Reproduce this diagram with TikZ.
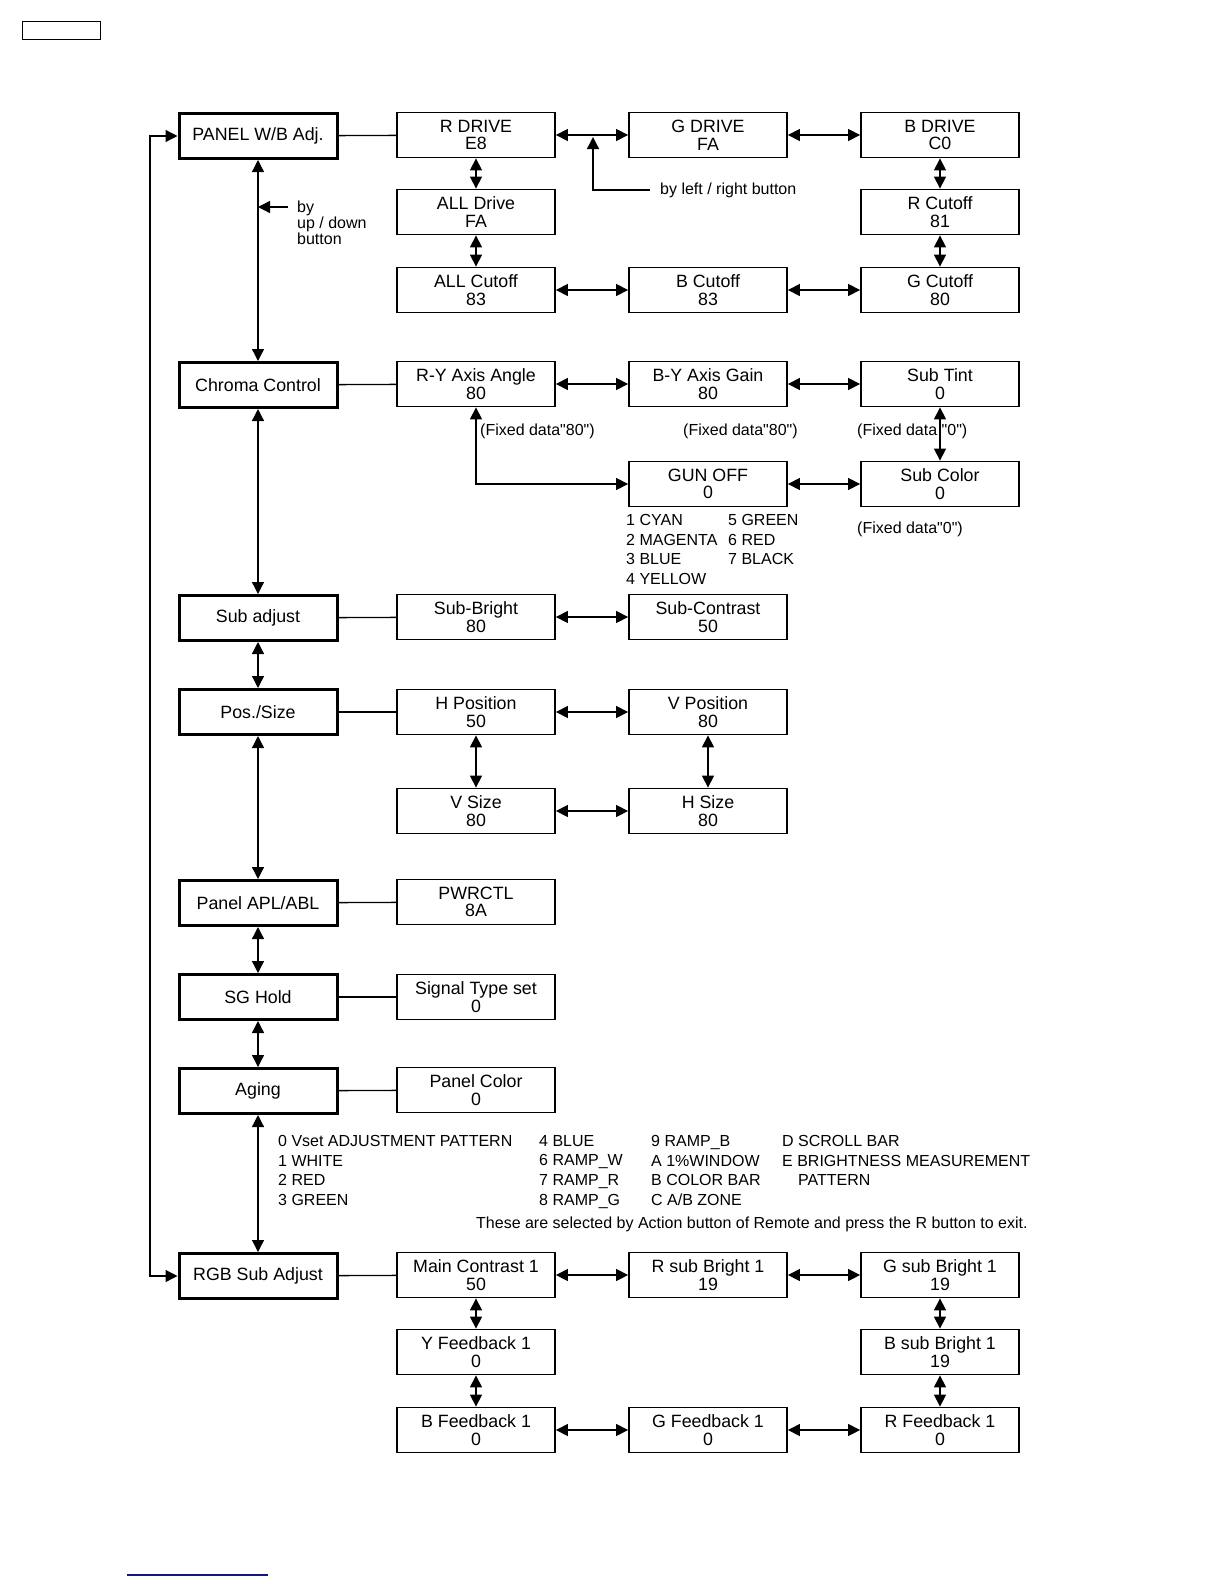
\documentclass[tikz,border=0pt]{standalone}
\usepackage{fontspec}
\setmainfont{Liberation Sans}[Ligatures=TeXOff]
\usetikzlibrary{arrows.meta}
\definecolor{navyline}{RGB}{20,20,130}

\begin{document}
\begin{tikzpicture}[x=1pt,y=-1pt,
    box/.style={draw,line width=1.8pt,minimum width=158pt,minimum height=45pt,inner sep=0pt,align=center,font=\fontsize{17.8}{17.7}\selectfont},
    mainbox/.style={box,line width=3pt},
    note/.style={inner sep=0pt,font=\fontsize{16}{19.7}\selectfont,align=left},
    dbl/.style={line width=1.3pt,{Triangle[length=12pt,width=12pt]}-{Triangle[length=12pt,width=12pt]}},
    tip/.style={line width=1.3pt,-{Triangle[length=12pt,width=12pt]}},
    link/.style={line width=1.3pt}]
\useasboundingbox (0,0) rectangle (1224,1584);
\draw[line width=1pt] (22,22) rectangle (100,40);
\draw[navyline,line width=1.5pt] (127,1575) -- (268,1575);

% left column
\node[mainbox] (panel) at (258,136) {PANEL W/B Adj.};
\node[mainbox] (chroma) at (258,385) {Chroma Control};
\node[mainbox] (subadj) at (258,618) {Sub adjust};
\node[mainbox] (possize) at (258,712) {Pos./Size};
\node[mainbox] (apl) at (258,903) {Panel APL/ABL};
\node[mainbox] (sghold) at (258,997) {SG Hold};
\node[mainbox] (aging) at (258,1091) {Aging};
\node[mainbox] (rgb) at (258,1276) {RGB Sub Adjust};

% W/B
\node[box] (rdrive) at (476,135) {R DRIVE\\E8};
\node[box] (gdrive) at (708,135) {G DRIVE\\FA};
\node[box] (bdrive) at (940,135) {B DRIVE\\C0};
\node[box] (alldrive) at (476,212) {ALL Drive\\FA};
\node[box] (rcutoff) at (940,212) {R Cutoff\\81};
\node[box] (allcutoff) at (476,290) {ALL Cutoff\\83};
\node[box] (bcutoff) at (708,290) {B Cutoff\\83};
\node[box] (gcutoff) at (940,290) {G Cutoff\\80};

% chroma
\node[box] (ryangle) at (476,384) {R-Y Axis Angle\\80};
\node[box] (bygain) at (708,384) {B-Y Axis Gain\\80};
\node[box] (subtint) at (940,384) {Sub Tint\\0};
\node[box] (gunoff) at (708,484) {GUN OFF\\0};
\node[box] (subcolor) at (940,484) {Sub Color\\0};

\node[box] (subbright) at (476,617) {Sub-Bright\\80};
\node[box] (subcontrast) at (708,617) {Sub-Contrast\\50};

\node[box] (hpos) at (476,712) {H Position\\50};
\node[box] (vpos) at (708,712) {V Position\\80};
\node[box] (vsize) at (476,811) {V Size\\80};
\node[box] (hsize) at (708,811) {H Size\\80};

\node[box] (pwrctl) at (476,902) {PWRCTL\\8A};
\node[box] (sigtype) at (476,997) {Signal Type set\\0};
\node[box] (panelcolor) at (476,1090) {Panel Color\\0};

% RGB
\node[box] (maincontrast) at (476,1275) {Main Contrast 1\\50};
\node[box] (rsubbright) at (708,1275) {R sub Bright 1\\19};
\node[box] (gsubbright) at (940,1275) {G sub Bright 1\\19};
\node[box] (yfeedback) at (476,1352) {Y Feedback 1\\0};
\node[box] (bsubbright) at (940,1352) {B sub Bright 1\\19};
\node[box] (bfeedback) at (476,1430) {B Feedback 1\\0};
\node[box] (gfeedback) at (708,1430) {G Feedback 1\\0};
\node[box] (rfeedback) at (940,1430) {R Feedback 1\\0};

% notes
\node[note,anchor=west] (lrnote) at (660,190) {by left / right button};
\node[note,anchor=west,font=\fontsize{16}{16}\selectfont] (udnote) at (297,223) {by\\up / down\\button};
\node[note,anchor=west] (fix1) at (480,431) {(Fixed data"80")};
\node[note,anchor=west] (fix2) at (683,431) {(Fixed data"80")};
\node[note,anchor=west] (fix3) at (857,431) {(Fixed data "0")};
\node[note,anchor=west] (fix4) at (857,529) {(Fixed data"0")};
\node[note,anchor=north west] (gunlist1) at (626,514) {1 CYAN\\2 MAGENTA\\3 BLUE\\4 YELLOW};
\node[note,anchor=north west] (gunlist2) at (728,514) {5 GREEN\\6 RED\\7 BLACK};
\node[note,anchor=north west] (pat1) at (278,1135) {0 Vset ADJUSTMENT PATTERN\\1 WHITE\\2 RED\\3 GREEN};
\node[note,anchor=north west] (pat2) at (539,1135) {4 BLUE\\6 RAMP\_W\\7 RAMP\_R\\8 RAMP\_G};
\node[note,anchor=north west] (pat3) at (651,1135) {9 RAMP\_B\\A 1\%WINDOW\\B COLOR BAR\\C A/B ZONE};
\node[note,anchor=north west] (pat4) at (782,1135) {D SCROLL BAR\\E BRIGHTNESS MEASUREMENT\\\hspace*{16pt}PATTERN};
\node[note,anchor=west] (exitnote) at (476,1224) {These are selected by Action button of Remote and press the R button to exit.};

% left column links
\draw[dbl] (panel) -- (chroma);
\draw[dbl] (chroma) -- (subadj);
\draw[dbl] (subadj) -- (possize);
\draw[dbl] (possize) -- (apl);
\draw[dbl] (apl) -- (sghold);
\draw[dbl] (sghold) -- (aging);
\draw[dbl] (aging) -- (rgb);
\coordinate (looptop) at (150,136);
\coordinate (loopbot) at (150,1276);
\draw[dbl] (panel.west) -- (looptop) -- (loopbot) -- (rgb.west);

\draw[link] (panel) -- (rdrive);
\draw[link] (chroma) -- (ryangle);
\draw[link] (subadj) -- (subbright);
\draw[link] (possize) -- (hpos);
\draw[link] (apl) -- (pwrctl);
\draw[link] (sghold) -- (sigtype);
\draw[link] (aging) -- (panelcolor);
\draw[link] (rgb) -- (maincontrast);

% rings
\draw[dbl] (rdrive) -- (gdrive);
\draw[dbl] (gdrive) -- (bdrive);
\draw[dbl] (bdrive) -- (rcutoff);
\draw[dbl] (rcutoff) -- (gcutoff);
\draw[dbl] (gcutoff) -- (bcutoff);
\draw[dbl] (bcutoff) -- (allcutoff);
\draw[dbl] (allcutoff) -- (alldrive);
\draw[dbl] (alldrive) -- (rdrive);

\draw[dbl] (ryangle) -- (bygain);
\draw[dbl] (bygain) -- (subtint);
\draw[dbl] (subtint) -- (subcolor);
\draw[dbl] (subcolor) -- (gunoff);
\draw[dbl] (ryangle.south) |- (gunoff.west);

\draw[dbl] (subbright) -- (subcontrast);

\draw[dbl] (hpos) -- (vpos);
\draw[dbl] (vpos) -- (hsize);
\draw[dbl] (hsize) -- (vsize);
\draw[dbl] (vsize) -- (hpos);

\draw[dbl] (maincontrast) -- (rsubbright);
\draw[dbl] (rsubbright) -- (gsubbright);
\draw[dbl] (gsubbright) -- (bsubbright);
\draw[dbl] (bsubbright) -- (rfeedback);
\draw[dbl] (rfeedback) -- (gfeedback);
\draw[dbl] (gfeedback) -- (bfeedback);
\draw[dbl] (bfeedback) -- (yfeedback);
\draw[dbl] (yfeedback) -- (maincontrast);

% button hints
\coordinate (lrtip) at (593,137);
\draw[tip] ([xshift=-10pt]lrnote.west) -| (lrtip);
\coordinate (udstart) at (288,207);
\draw[tip] (udstart) -- (udstart -| panel.south);
\end{tikzpicture}
\end{document}
